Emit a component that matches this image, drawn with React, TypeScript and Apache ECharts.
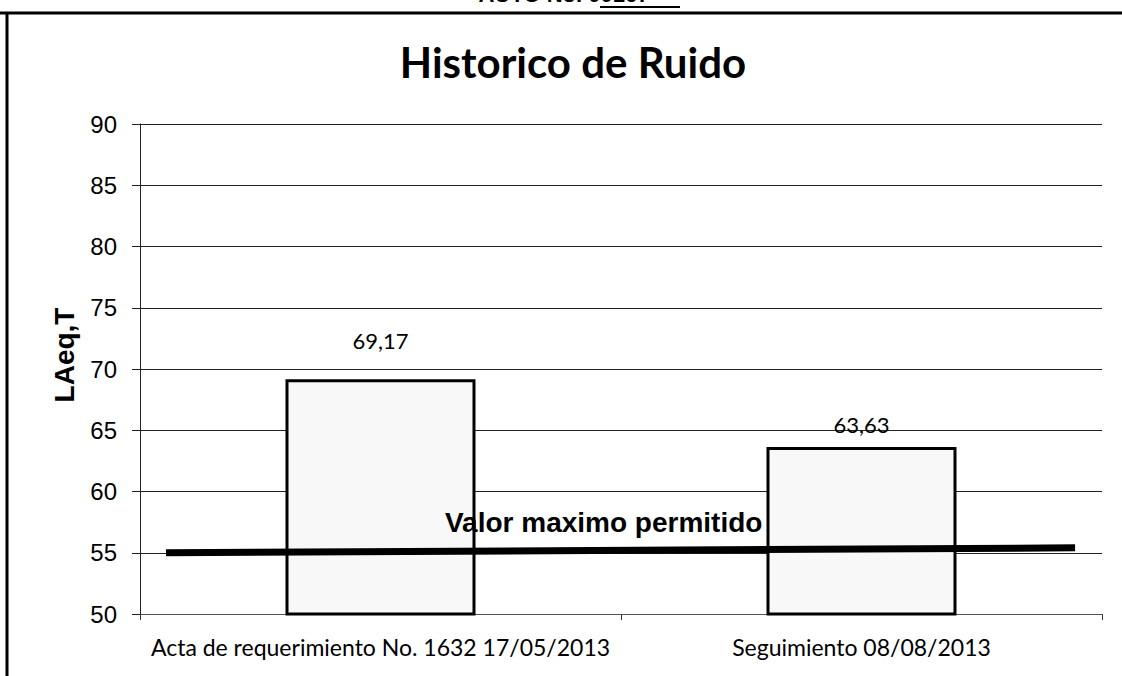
import React, { useEffect, useRef } from "react";
import * as echarts from "echarts";

const categories = [
  "Acta de requerimiento No. 1632 17/05/2013",
  "Seguimiento 08/08/2013",
];
const values = [69.17, 63.63];
const valueLabels = ["69,17", "63,63"];
const limitLine = [
  [2.7, 55.0],
  [97.2, 55.4],
];
const limitLabelPoint = [[48.2, 57.5]];
const limitLabel = "Valor maximo permitido";
const yMin = 50;
const yMax = 90;
const yStep = 5;

const ARIAL = "'Liberation Sans', Arial, sans-serif";
const CALIBRI = "Lato, 'Open Sans', sans-serif";

export default function App() {
  const ref = useRef<HTMLDivElement>(null);

  useEffect(() => {
    if (!ref.current) return;
    const chart = echarts.init(ref.current, null, { renderer: "svg" });
    const labelDistances = [28, 12];
    const option: any = {
      animation: false,
      backgroundColor: "#ffffff",
      grid: { left: 140, right: 20, top: 124, bottom: 62, containLabel: false },
      title: {
        text: "Historico de Ruido",
        left: 568,
        textAlign: "center",
        top: 36,
        textStyle: {
          fontFamily: CALIBRI,
          fontWeight: "bold",
          fontSize: 42,
          color: "#000",
        },
      },
      xAxis: [
        {
          type: "category",
          data: categories,
          boundaryGap: true,
          axisLine: { show: true, lineStyle: { color: "#555", width: 1 } },
          axisTick: { show: true, length: 6, lineStyle: { color: "#333" } },
          axisLabel: {
            interval: 0,
            margin: 21,
            fontFamily: CALIBRI,
            fontSize: 23,
            color: "#000",
          },
          splitLine: { show: false },
        },
        {
          type: "value",
          min: 0,
          max: 100,
          show: false,
        },
      ],
      yAxis: {
        type: "value",
        min: yMin,
        max: yMax,
        interval: yStep,
        name: "LAeq,T",
        nameLocation: "middle",
        nameGap: 62,
        nameRotate: 90,
        nameTextStyle: {
          fontFamily: ARIAL,
          fontWeight: "bold",
          fontSize: 28,
          color: "#000",
          padding: [0, 0, 0, 28],
        },
        axisLine: { show: true, lineStyle: { color: "#222", width: 1 } },
        axisTick: { show: true, length: 8, lineStyle: { color: "#222" } },
        axisLabel: {
          margin: 23,
          fontFamily: ARIAL,
          fontSize: 24,
          color: "#000",
        },
        splitLine: { show: true, lineStyle: { color: "#222", width: 1 } },
      },
      series: [
        {
          type: "bar",
          xAxisIndex: 0,
          barWidth: "39.5%",
          data: values.map((v, i) => ({
            value: v,
            label: {
              show: true,
              position: "top",
              distance: labelDistances[i],
              formatter: valueLabels[i],
              fontFamily: CALIBRI,
              fontSize: 22,
              color: "#000",
            },
          })),
          itemStyle: { color: "#f8f8f8", borderColor: "#000", borderWidth: 3 },
          z: 2,
        },
        {
          type: "line",
          xAxisIndex: 1,
          data: limitLine,
          symbol: "none",
          lineStyle: { color: "#000", width: 7 },
          z: 3,
        },
        {
          type: "scatter",
          xAxisIndex: 1,
          data: limitLabelPoint,
          symbolSize: 1,
          itemStyle: { opacity: 0 },
          label: {
            show: true,
            position: "inside",
            formatter: limitLabel,
            fontFamily: ARIAL,
            fontWeight: "bold",
            fontSize: 28,
            color: "#000",
            opacity: 1,
            textBorderWidth: 0,
          },
          z: 4,
        },
      ],
      graphic: [
        {
          type: "line",
          shape: { x1: 0, y1: 13, x2: 1122, y2: 13 },
          style: { stroke: "#000", lineWidth: 3 },
        },
        {
          type: "line",
          shape: { x1: 7, y1: 13, x2: 7, y2: 676 },
          style: { stroke: "#000", lineWidth: 3 },
        },
        {
          type: "text",
          x: 564,
          y: 5,
          style: {
            text: "AUTO No. 00167",
            align: "center",
            verticalAlign: "bottom",
            fontFamily: ARIAL,
            fontWeight: "bold",
            fontSize: 22,
            fill: "#000",
          },
        },
        {
          type: "line",
          shape: { x1: 600, y1: 7, x2: 680, y2: 7 },
          style: { stroke: "#000", lineWidth: 2 },
        },
      ],
    };
    chart.setOption(option);
    return () => chart.dispose();
  }, []);

  return (
    <div
      ref={ref}
      style={{ position: "absolute", left: 0, top: 0, width: 1122, height: 676 }}
    />
  );
}
